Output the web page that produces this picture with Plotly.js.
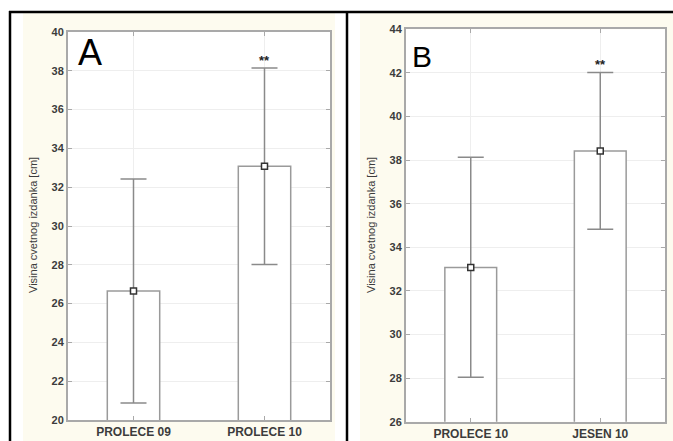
<!DOCTYPE html>
<html>
<head>
<meta charset="utf-8">
<script src="https://cdn.plot.ly/plotly-3.0.1.min.js"></script>
<style>html,body{margin:0;padding:0;background:#fff}#chart{width:673px;height:441px}</style>
</head>
<body>
<div id="chart"></div>
<script>
// ---- data ----
const categoriesA = ["PROLECE 09", "PROLECE 10"];
const meansA = [26.65, 33.08];
const upperA = [32.42, 38.14];
const lowerA = [20.88, 28.02];
const sigA = ["", "**"];

const categoriesB = ["PROLECE 10", "JESEN 10"];
const meansB = [33.07, 38.42];
const upperB = [38.13, 42.02];
const lowerB = [28.04, 34.83];
const sigB = ["", "**"];

const yTitle = "Visina cvetnog izdanka [cm]";
const panelLabels = ["A", "B"];

// ---- layout helpers (pixel -> paper) ----
const W = 673, H = 441;
const px = v => v / W;
const py = v => 1 - v / H;

const FONT = "Arial, 'Liberation Sans', sans-serif";
const beige = "#fdfbef";
const axisCol = "#a9a9a9";
const gridCol = "#eeeeee";
const textCol = "#3c3c3c";

function barTrace(cats, means, xa, ya) {
  return {
    type: "bar", x: cats, y: means, xaxis: xa, yaxis: ya,
    width: 0.4,
    marker: {color: "#ffffff", line: {color: "#9a9a9a", width: 1.5}},
    hoverinfo: "skip", showlegend: false
  };
}
function pointTrace(cats, means, up, lo, xa, ya) {
  return {
    type: "scatter", mode: "markers", x: cats, y: means, xaxis: xa, yaxis: ya,
    marker: {symbol: "square", size: 6, color: "#ffffff", line: {color: "#333333", width: 1.5}},
    error_y: {
      type: "data", symmetric: false,
      array: up.map((u, i) => u - means[i]),
      arrayminus: lo.map((l, i) => means[i] - l),
      color: "#8a8a8a", thickness: 1.5, width: 13
    },
    cliponaxis: false, showlegend: false, hoverinfo: "skip"
  };
}

const traces = [
  barTrace(categoriesA, meansA, "x", "y"),
  pointTrace(categoriesA, meansA, upperA, lowerA, "x", "y"),
  barTrace(categoriesB, meansB, "x2", "y2"),
  pointTrace(categoriesB, meansB, upperB, lowerB, "x2", "y2")
];

function xAxis(domain, anchor) {
  return {
    domain: domain, anchor: anchor, type: "category", range: [-0.5, 1.5],
    showline: true, linecolor: axisCol, linewidth: 2, mirror: "ticks",
    ticks: "inside", ticklen: 4, tickcolor: axisCol, tickwidth: 1,
    showgrid: true, gridcolor: gridCol, gridwidth: 1,
    tickfont: {family: FONT, size: 12, color: textCol, weight: "bold"},
    zeroline: false, fixedrange: true
  };
}
function yAxis(domain, anchor, range) {
  return {
    domain: domain, anchor: anchor, range: range, dtick: 2, tick0: 0,
    showline: true, linecolor: axisCol, linewidth: 2, mirror: "ticks",
    ticks: "inside", ticklen: 4, tickcolor: axisCol, tickwidth: 1,
    showgrid: true, gridcolor: gridCol, gridwidth: 1,
    tickfont: {family: FONT, size: 11, color: textCol, weight: "bold"},
    zeroline: false, fixedrange: true
  };
}

const A = {x0: 68, x1: 330, y0: 32, y1: 420};
const B = {x0: 406, x1: 665, y0: 29.3, y1: 421.7};

const shapes = [
  // beige panel backgrounds
  {type: "rect", xref: "paper", yref: "paper", x0: px(23), x1: px(335), y0: py(441), y1: py(13), fillcolor: beige, line: {width: 0}, layer: "below"},
  {type: "rect", xref: "paper", yref: "paper", x0: px(360), x1: px(673), y0: py(441), y1: py(13), fillcolor: beige, line: {width: 0}, layer: "below"},
  // white plot areas
  {type: "rect", xref: "paper", yref: "paper", x0: px(A.x0), x1: px(A.x1), y0: py(A.y1), y1: py(A.y0), fillcolor: "#ffffff", line: {width: 0}, layer: "below"},
  {type: "rect", xref: "paper", yref: "paper", x0: px(B.x0), x1: px(B.x1), y0: py(B.y1), y1: py(B.y0), fillcolor: "#ffffff", line: {width: 0}, layer: "below"},
  // black frame lines
  {type: "line", xref: "paper", yref: "paper", x0: px(10), x1: px(10), y0: py(441), y1: py(11), line: {color: "#000", width: 2.5}},
  {type: "line", xref: "paper", yref: "paper", x0: px(9), x1: px(673), y0: py(12), y1: py(12), line: {color: "#000", width: 2.5}},
  {type: "line", xref: "paper", yref: "paper", x0: px(347), x1: px(347), y0: py(441), y1: py(12), line: {color: "#000", width: 2.5}}
];

const annotations = [
  {xref: "paper", yref: "paper", x: px(33), y: py(225), text: yTitle, textangle: -90, showarrow: false,
   font: {family: FONT, size: 11, color: textCol}, xanchor: "center", yanchor: "middle"},
  {xref: "paper", yref: "paper", x: px(371), y: py(225), text: yTitle, textangle: -90, showarrow: false,
   font: {family: FONT, size: 11, color: textCol}, xanchor: "center", yanchor: "middle"},
  {xref: "paper", yref: "paper", x: px(76), y: py(53), text: panelLabels[0], showarrow: false,
   font: {family: FONT, size: 36, color: "#000"}, xanchor: "left", yanchor: "middle"},
  {xref: "paper", yref: "paper", x: px(410), y: py(56), text: panelLabels[1], showarrow: false,
   font: {family: FONT, size: 30, color: "#000"}, xanchor: "left", yanchor: "middle"}
];
categoriesA.forEach((c, i) => {
  if (sigA[i]) annotations.push({xref: "x", yref: "y", x: c, y: upperA[i], text: sigA[i], showarrow: false,
    yanchor: "bottom", yshift: -2, font: {family: FONT, size: 13, color: "#222", weight: "bold"}});
});
categoriesB.forEach((c, i) => {
  if (sigB[i]) annotations.push({xref: "x2", yref: "y2", x: c, y: upperB[i], text: sigB[i], showarrow: false,
    yanchor: "bottom", yshift: -2, font: {family: FONT, size: 13, color: "#222", weight: "bold"}});
});

const layout = {
  width: W, height: H,
  margin: {l: 0, r: 0, t: 0, b: 0, pad: 0},
  paper_bgcolor: "#ffffff", plot_bgcolor: "rgba(0,0,0,0)",
  showlegend: false, barmode: "overlay",
  xaxis: xAxis([px(A.x0), px(A.x1)], "y"),
  yaxis: yAxis([py(A.y1), py(A.y0)], "x", [20, 40]),
  xaxis2: xAxis([px(B.x0), px(B.x1)], "y2"),
  yaxis2: yAxis([py(B.y1), py(B.y0)], "x2", [26, 44]),
  shapes: shapes,
  annotations: annotations
};

Plotly.newPlot("chart", traces, layout, {displayModeBar: false, staticPlot: true});
</script>
</body>
</html>
